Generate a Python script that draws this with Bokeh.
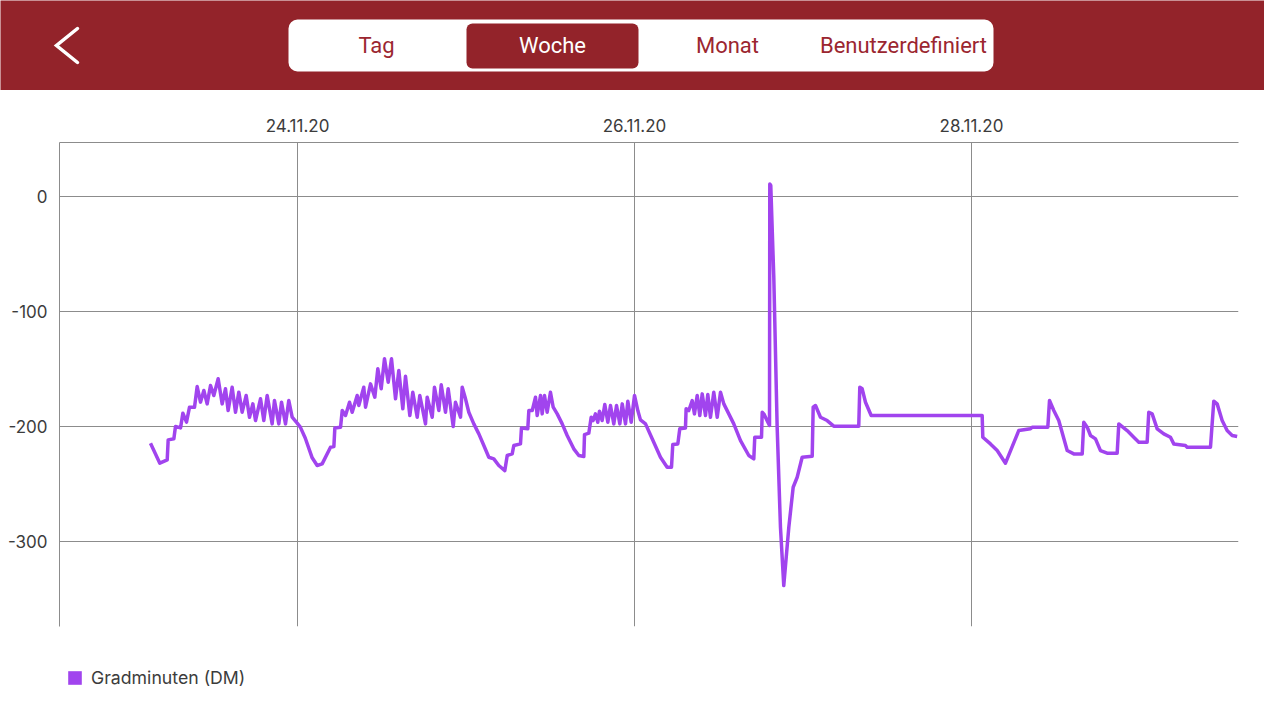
import pandas as pd
from bokeh.plotting import figure
from bokeh.models import (Range1d, FixedTicker, DatetimeTickFormatter, Legend, LegendItem,
                          Label, BoxAnnotation)
from bokeh.layouts import column
from bokeh.embed import file_html
from bokeh.resources import INLINE

# ---------------- data ----------------
# hours since 23.11.2020 00:00
hours = [
    3.06, 4.39, 5.44, 5.58, 6.39, 6.62, 7.34, 7.67, 8.19, 8.62, 9.33, 9.71, 10.18, 10.66, 11.13,
    11.61, 12.08, 12.70, 13.27, 13.74, 14.12, 14.69, 15.17, 15.64, 16.12, 16.69, 17.16, 17.64,
    18.02, 18.73, 19.20, 19.68, 20.39, 20.72, 21.34, 21.72, 22.29, 22.76, 23.24, 23.95, 24.4,
    25.1, 26.09, 26.80, 27.51, 28.70, 29.18, 29.32, 30.13, 30.37, 30.84, 31.41, 31.79, 32.50,
    32.73, 33.44, 33.69, 34.40, 35.01, 35.44, 35.92, 36.39, 36.92, 37.39, 37.96, 38.43, 39.00,
    39.38, 40.00, 40.42, 41.05, 41.42, 42.23, 42.47, 43.19, 43.51, 44.13, 44.47, 45.08, 45.46,
    46.18, 46.50, 47.22, 47.46, 47.93, 48.40, 49.11, 49.83, 50.54, 51.25, 51.96, 52.67, 53.53,
    53.87, 54.58, 54.81, 55.76, 55.90, 56.80, 56.95, 57.43, 57.90, 58.14, 58.61, 58.85, 59.18,
    59.56, 60.03, 60.42, 60.99, 61.70, 62.41, 63.35, 64.07, 64.78, 64.88, 65.49, 65.83, 66.11,
    66.44, 66.77, 67.01, 67.39, 67.77, 68.20, 68.58, 69.05, 69.44, 69.91, 70.25, 70.72, 71.05,
    71.53, 72.00, 72.47, 72.85, 73.57, 74.52, 75.70, 76.65, 77.27, 77.45, 78.17, 78.45, 79.26,
    79.35, 79.73, 80.22, 80.54, 80.93, 81.30, 81.64, 82.11, 82.44, 82.82, 83.29, 83.78, 84.25,
    84.72, 85.43, 86.14, 87.10, 88.28, 88.99, 89.13, 90.09, 90.19, 90.42, 91.23, 91.27, 91.41,
    91.84, 92.32, 92.79, 93.26, 93.98, 94.60, 95.17, 95.88, 97.31, 97.45, 97.78, 98.49, 99.44,
    100.38, 103.94, 104.09, 104.43, 104.90, 105.71, 121.52, 121.61, 122.70, 123.66, 124.84,
    126.73, 128.40, 128.64, 130.87, 131.11, 131.72, 132.43, 133.63, 134.57, 135.77, 135.99,
    136.48, 136.95, 137.66, 138.37, 139.32, 140.75, 140.98, 142.17, 143.11, 143.83, 145.02,
    145.25, 145.73, 146.45, 147.39, 148.34, 148.81, 150.47, 150.72, 154.04, 154.51, 154.99,
    155.70, 156.41, 157.13, 157.84,
]
gradminuten = [
    -214.5, -231.9, -229.0, -211.6, -210.7, -200.0, -201.2, -188.4, -196.2, -183.2, -183.2,
    -165.2, -178.8, -168.7, -180.3, -164.3, -173.0, -158.5, -180.3, -167.2, -186.1, -165.8,
    -187.5, -170.1, -187.5, -173.0, -191.9, -180.3, -194.8, -175.9, -194.8, -173.0, -197.7,
    -177.4, -197.7, -178.8, -197.7, -177.4, -191.9, -197.0, -200.5, -210.0, -227.2, -233.9,
    -232.5, -218.0, -217.4, -201.2, -200.6, -186.1, -190.4, -178.9, -187.6, -173.0, -181.7,
    -165.8, -183.2, -162.9, -174.5, -149.8, -167.2, -141.1, -161.5, -141.1, -175.9, -151.3,
    -184.6, -156.3, -190.4, -170.2, -191.9, -173.0, -197.7, -174.5, -191.9, -165.8, -186.1,
    -163.7, -187.6, -167.2, -200.0, -178.9, -191.9, -165.8, -175.9, -187.6, -197.7, -206.4,
    -216.5, -226.7, -228.1, -233.9, -238.3, -225.2, -223.8, -216.5, -215.1, -201.2, -202.0,
    -186.1, -186.1, -174.5, -190.4, -173.0, -189.0, -173.0, -187.6, -170.2, -183.2, -189.0,
    -197.7, -207.8, -219.4, -225.2, -226.1, -207.0, -205.8, -191.9, -194.8, -189.0, -196.3,
    -186.7, -194.8, -180.9, -196.3, -181.7, -197.7, -181.7, -197.7, -180.3, -197.7, -178.0,
    -196.3, -173.0, -186.1, -194.2, -197.7, -210.7, -226.7, -235.4, -235.4, -215.7, -215.1,
    -202.0, -201.2, -184.6, -186.1, -177.4, -189.0, -173.0, -190.4, -171.6, -190.4, -172.2,
    -191.9, -170.2, -191.9, -170.2, -180.3, -189.0, -197.7, -212.2, -225.2, -228.1, -209.3,
    -209.3, -187.6, -189.0, -199.1, 11.0, 9.6, -70.2, -200.6, -287.6, -338.3, -287.6, -252.8,
    -244.1, -226.7, -225.8, -183.2, -181.7, -191.9, -194.8, -199.7, -199.7, -165.8, -167.2,
    -178.9, -190.4, -190.4, -209.3, -215.1, -220.9, -231.9, -203.5, -202.0, -200.6, -200.6,
    -177.4, -186.1, -194.8, -220.9, -223.8, -223.8, -196.3, -200.6, -207.8, -210.7, -220.9,
    -223.2, -223.2, -197.7, -203.5, -209.3, -213.6, -213.6, -187.6, -189.0, -202.0, -206.4,
    -209.3, -215.1, -216.5, -218.0, -218.0, -178.0, -180.3, -194.8, -203.5, -207.8, -208.7,
]
series_name = "Gradminuten (DM)"
x_tick_dates = ["2020-11-24", "2020-11-26", "2020-11-28"]
y_ticks = [0, -100, -200, -300]
tabs = ["Tag", "Woche", "Monat", "Benutzerdefiniert"]
selected_tab = "Woche"

base = pd.Timestamp("2020-11-23 00:00")
x_dt = [(base + pd.Timedelta(hours=h)).to_pydatetime() for h in hours]
x_start = (base + pd.Timedelta(hours=-9.9)).to_pydatetime()
x_end = (base + pd.Timedelta(hours=158.03)).to_pydatetime()
tick_ms = [pd.Timestamp(d).value // 10**6 for d in x_tick_dates]

LINE_COLOR = "#A144EE"
RED = "#93232A"
TEXT_RED = "#9B2630"
GRID = "#8c8c8c"
LABEL = "#3c3c3c"

HAS_FA = "frame_align" in figure.properties()

# ---------------- header ----------------
hdr = figure(width=1264, height=90,
             x_range=Range1d(0, 1264) if HAS_FA else Range1d(59, 1238),
             y_range=Range1d(0, 90),
             output_backend="svg", toolbar_location=None, min_border=0,
             x_axis_location=None, y_axis_location=None)
hdr.grid.visible = False
hdr.outline_line_color = None
hdr.background_fill_color = RED
hdr.border_fill_color = RED

# header coordinates: x = page px, y = 90 - page py
hdr.add_layout(BoxAnnotation(left=288, right=993, bottom=19, top=71, fill_color="white",
                             fill_alpha=1, line_color=None, border_radius=9))
tab_centers = [376, 552, 727, 903]
for name, cx in zip(tabs, tab_centers):
    if name == selected_tab:
        hdr.add_layout(BoxAnnotation(left=466, right=638, bottom=22, top=67, fill_color=RED,
                                     fill_alpha=1, line_color=None, border_radius=6))
for name, cx in zip(tabs, tab_centers):
    hdr.add_layout(Label(x=cx, y=45, text=name, text_align="center", text_baseline="middle",
                         text_font="Roboto", text_font_size="22px",
                         text_color="white" if name == selected_tab else TEXT_RED))
hdr.line(x=[77, 56, 77], y=[62, 45, 28], line_color="white", line_width=3.5,
         line_cap="round", line_join="miter")

# ---------------- main chart ----------------
p = figure(width=1264, height=546, x_axis_type="datetime", x_axis_location="above",
           x_range=Range1d(x_start, x_end), y_range=Range1d(-373.9, 47.0),
           output_backend="svg", toolbar_location=None,
           min_border_left=59, min_border_right=26, min_border_top=52, min_border_bottom=10)
p.outline_line_color = None

xt = FixedTicker(ticks=tick_ms)
yt = FixedTicker(ticks=y_ticks)
p.xaxis.ticker = xt
p.xgrid.ticker = xt
p.yaxis.ticker = yt
p.ygrid.ticker = yt
fmt = "%d.%m.%y"
p.xaxis.formatter = DatetimeTickFormatter(microseconds=fmt, milliseconds=fmt, seconds=fmt,
                                          minsec=fmt, minutes=fmt, hourmin=fmt, hours=fmt,
                                          days=fmt, months=fmt, years=fmt)
p.yaxis.major_label_overrides = {t: str(t) for t in y_ticks}
for ax in (p.xaxis[0], p.yaxis[0]):
    ax.major_tick_line_color = None
    ax.minor_tick_line_color = None
    ax.axis_line_color = GRID
    ax.axis_line_width = 1
    ax.major_label_text_font = "Inter"
    ax.major_label_text_font_size = "17px"
    ax.major_label_text_color = LABEL
p.xaxis.major_label_standoff = 5
p.yaxis.major_label_standoff = 6
for g in (p.xgrid[0], p.ygrid[0]):
    g.grid_line_color = GRID
    g.grid_line_width = 1

p.line(x_dt, gradminuten, line_color=LINE_COLOR, line_width=3.5, line_join="round")

# ---------------- legend footer ----------------
ftr = figure(width=1264, height=68, x_range=Range1d(0, 1), y_range=Range1d(0, 1),
             output_backend="svg", toolbar_location=None, min_border=0,
             x_axis_location=None, y_axis_location=None)
ftr.grid.visible = False
ftr.outline_line_color = None
# legend swatch renderer (kept outside the visible range, only its legend glyph shows)
sw = ftr.quad(left=[5], right=[6], top=[6], bottom=[5], fill_color=LINE_COLOR, line_color=None)
legend = Legend(items=[LegendItem(label=series_name, renderers=[sw])],
                location=(66 if HAS_FA else 7, 16),
                margin=0, padding=0, glyph_width=17, glyph_height=17, label_standoff=8,
                label_text_font="Inter", label_text_font_size="17.7px", label_text_color=LABEL,
                border_line_color=None, background_fill_alpha=0)
ftr.add_layout(legend)

if HAS_FA:
    for f in (hdr, p, ftr):
        f.frame_align = False

page = column(hdr, p, ftr, spacing=0)
open("out.html", "w").write(file_html(page, INLINE))
